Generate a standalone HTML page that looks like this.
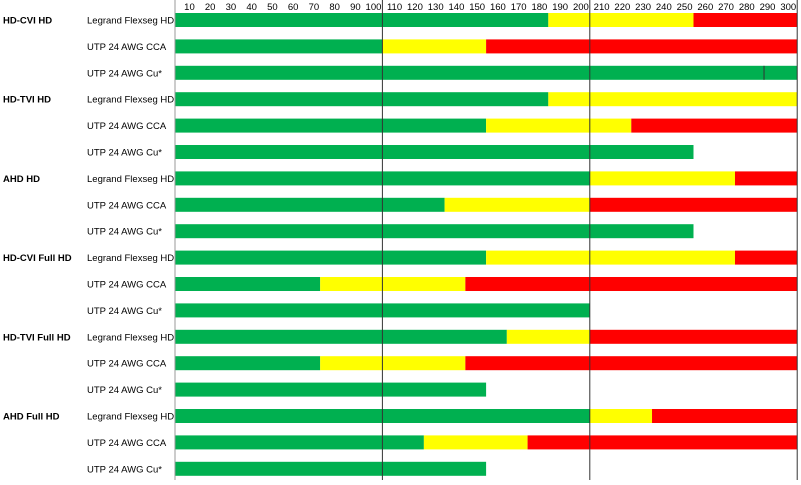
<!DOCTYPE html>
<html><head><meta charset="utf-8"><style>
body{margin:0;background:#fff;width:801px;height:480px;overflow:hidden;font-family:"Liberation Sans",sans-serif}
</style></head><body>
<svg id="c" width="801" height="480" xmlns="http://www.w3.org/2000/svg"></svg>
<script>
const groups=["HD-CVI HD","HD-TVI HD","AHD HD","HD-CVI Full HD","HD-TVI Full HD","AHD Full HD"];
const cables=["Legrand Flexseg HD","UTP 24 AWG CCA","UTP 24 AWG Cu*"];
const greenEnd=[180,100,300,180,150,250,200,130,250,150,70,200,160,70,150,200,120,150];
const yellowEnd=[250,150,300,300,220,250,270,200,250,270,140,200,200,140,150,230,170,150];
const redEnd=[300,300,300,300,300,250,300,300,250,300,300,200,300,300,150,300,300,150];
const ticks=[10,20,30,40,50,60,70,80,90,100,110,120,130,140,150,160,170,180,190,200,210,220,230,240,250,260,270,280,290,300];
const NS="http://www.w3.org/2000/svg";
const svg=document.getElementById('c');
const x=v=>175+v*2.074;
const yc=i=>20+i*26.4;
function mk(t,a){const e=document.createElementNS(NS,t);for(const k in a)e.setAttribute(k,a[k]);svg.appendChild(e);return e;}
ticks.forEach(t=>{const e=mk('text',{x:x(t)-1,y:10,'font-size':9.5,'text-anchor':'end',fill:'#000'});e.textContent=t;

});
greenEnd.forEach((g,i)=>{
 const y=yc(i)-7;
 const segs=[[0,g,'#00b050'],[g,yellowEnd[i],'#ffff00'],[yellowEnd[i],redEnd[i],'#ff0000']];
 segs.forEach(s=>{if(s[1]>s[0]){const r=mk('rect',{x:x(s[0]),y:y,width:x(s[1])-x(s[0]),height:14,fill:s[2]});
 
 }});
 const l=mk('text',{x:87,y:yc(i)+3.5,'font-size':9.5,fill:'#000'});l.textContent=cables[i%3];
 
 
 if(i%3==0){const gl=mk('text',{x:3,y:yc(i)+3.5,'font-size':9.5,'font-weight':'bold',fill:'#000'});gl.textContent=groups[i/3];
 
 }
});
[[0,'#999'],[100,'#333'],[200,'#333'],[300,'#333']].forEach(v=>{const ln=mk('line',{x1:x(v[0]),x2:x(v[0]),y1:0,y2:480,stroke:v[1],'stroke-width':1});

});
const tk=mk('line',{x1:x(284),x2:x(284),y1:yc(2)-7,y2:yc(2)+7,stroke:'#333','stroke-width':1});


</script>
</body></html>
